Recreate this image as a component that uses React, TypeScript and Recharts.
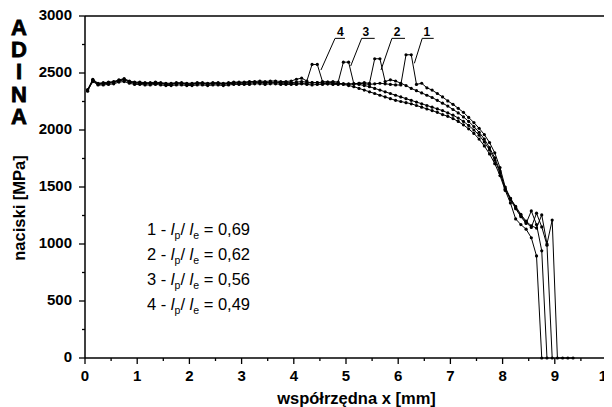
import React from 'react';
import { LineChart, Line, XAxis, YAxis, ReferenceLine, ReferenceDot } from 'recharts';

// positions along the contact, mm
const xs = [
  0.05, 0.15, 0.25, 0.35, 0.45, 0.55, 0.65, 0.75, 0.85, 0.95,
  1.05, 1.15, 1.25, 1.35, 1.45, 1.55, 1.65, 1.75, 1.85, 1.95,
  2.05, 2.15, 2.25, 2.35, 2.45, 2.55, 2.65, 2.75, 2.85, 2.95,
  3.05, 3.15, 3.25, 3.35, 3.45, 3.55, 3.65, 3.75, 3.85, 3.95,
  4.05, 4.15, 4.25, 4.35, 4.45, 4.55, 4.65, 4.75, 4.85, 4.95,
  5.05, 5.15, 5.25, 5.35, 5.45, 5.55, 5.65, 5.75, 5.85, 5.95,
  6.05, 6.15, 6.25, 6.35, 6.45, 6.55, 6.65, 6.75, 6.85, 6.95,
  7.05, 7.15, 7.25, 7.35, 7.45, 7.55, 7.65, 7.75, 7.85, 7.95,
  8.05, 8.15, 8.25, 8.35, 8.45, 8.55, 8.65, 8.75, 8.85, 8.95,
  9.05, 9.15, 9.25, 9.35,
];

// 1 - lp/le = 0,69
const s1 = [
  2345, 2425, 2395, 2395, 2400, 2405, 2420, 2425, 2410, 2400,
  2400, 2395, 2395, 2400, 2395, 2390, 2390, 2395, 2395, 2390,
  2390, 2395, 2395, 2390, 2395, 2395, 2390, 2395, 2400, 2400,
  2400, 2400, 2405, 2405, 2400, 2405, 2405, 2400, 2400, 2400,
  2400, 2405, 2400, 2395, 2400, 2400, 2405, 2400, 2400, 2405,
  2400, 2405, 2410, 2405, 2400, 2405, 2410, 2405, 2400, 2395,
  2395, 2660, 2660, 2400, 2410, 2370, 2350, 2320, 2290, 2255,
  2225, 2190, 2155, 2110, 2065, 2015, 1960, 1890, 1800, 1670,
  1500, 1400, 1330, 1260, 1200, 1160, 1140, 1255, 1000, 1210,
  0, 0, 0, 0,
];

// 2 - lp/le = 0,62
const s2 = [
  2340, 2435, 2400, 2405, 2410, 2415, 2430, 2440, 2420, 2410,
  2410, 2405, 2405, 2410, 2405, 2400, 2400, 2405, 2405, 2400,
  2400, 2405, 2405, 2400, 2405, 2405, 2400, 2405, 2410, 2410,
  2410, 2410, 2415, 2415, 2410, 2415, 2415, 2410, 2410, 2410,
  2410, 2410, 2410, 2415, 2415, 2410, 2405, 2405, 2410, 2405,
  2405, 2405, 2410, 2415, 2410, 2625, 2625, 2425, 2440, 2430,
  2410, 2390, 2365, 2345, 2325, 2305, 2285, 2260, 2235, 2210,
  2180, 2150, 2115, 2075, 2030, 1980, 1920, 1845, 1755, 1640,
  1485, 1400, 1320, 1250, 1190, 1145, 1270, 1150, 990, 0,
];

// 3 - lp/le = 0,56
const s3 = [
  2350, 2440, 2405, 2410, 2415, 2420, 2435, 2445, 2425, 2415,
  2415, 2410, 2410, 2415, 2410, 2405, 2405, 2410, 2410, 2405,
  2405, 2410, 2410, 2405, 2410, 2410, 2405, 2410, 2415, 2415,
  2415, 2420, 2420, 2420, 2415, 2420, 2420, 2415, 2415, 2415,
  2420, 2425, 2420, 2415, 2415, 2420, 2420, 2425, 2420, 2595,
  2595, 2405, 2400, 2390, 2380, 2365, 2350, 2335, 2320, 2305,
  2290, 2275, 2260, 2245, 2230, 2215, 2200, 2185, 2170, 2150,
  2130, 2105, 2075, 2040, 2000, 1955, 1895, 1825, 1735, 1625,
  1480, 1390, 1310, 1240, 1180, 1290, 1170, 940, 0,
];

// 4 - lp/le = 0,49
const s4 = [
  2355, 2445, 2410, 2415, 2420, 2425, 2440, 2450, 2430, 2420,
  2420, 2415, 2415, 2420, 2415, 2410, 2410, 2415, 2415, 2410,
  2410, 2415, 2415, 2410, 2415, 2415, 2410, 2415, 2420, 2420,
  2420, 2425, 2425, 2430, 2425, 2430, 2430, 2425, 2425, 2430,
  2445, 2455, 2430, 2575, 2575, 2425, 2420, 2415, 2410, 2400,
  2390, 2380, 2365, 2350, 2335, 2320, 2305, 2290, 2275, 2260,
  2250, 2240, 2230, 2215, 2200, 2185, 2170, 2155, 2135, 2120,
  2100, 2075, 2045, 2010, 1970, 1920, 1860, 1790, 1705, 1600,
  1470, 1360, 1220, 1170, 1130, 1055, 895, 0,
];

const xTicks = [0, 0.5, 1, 1.5, 2, 2.5, 3, 3.5, 4, 4.5, 5, 5.5, 6, 6.5, 7, 7.5, 8, 8.5, 9, 9.5, 10];
const yTicks = [0, 250, 500, 750, 1000, 1250, 1500, 1750, 2000, 2250, 2500, 2750, 3000];

const legendNames = ['1', '2', '3', '4'];
const legendRatios = ['0,69', '0,62', '0,56', '0,49'];

// peak callouts: label, label x, underline start/end x, leader end (x, y)
const calloutNames = ['4', '3', '2', '1'];
const calloutX = [4.89, 5.38, 5.98, 6.55];
const underlineFrom = [4.79, 5.30, 5.88, 6.46];
const underlineTo = [4.98, 5.55, 6.13, 6.68];
const leaderEndX = [4.52, 5.09, 5.67, 6.31];
const leaderEndY = [2526, 2561, 2526, 2585];
const calloutLabelY = 2862;
const underlineY = 2804;

const toPoints = (vals: number[]) => vals.map((y, i) => ({ x: xs[i], y }));
const series = [s1, s2, s3, s4].map(toPoints);

const FONT = '"Liberation Sans", Arial, Helvetica, sans-serif';

const XTick = (props: any) => {
  const { x, y, payload } = props;
  const major = payload.value % 1 === 0;
  return (
    <g>
      <line x1={x} x2={x} y1={y} y2={y + (major ? 6 : 3)} stroke="#000" strokeWidth={1.3} />
      {major && (
        <text x={x} y={y + 23} textAnchor="middle" fontSize={15} fontWeight="bold" fontFamily={FONT} fill="#000">
          {payload.value}
        </text>
      )}
    </g>
  );
};

const YTick = (props: any) => {
  const { x, y, payload } = props;
  const major = payload.value % 500 === 0;
  return (
    <g>
      <line x1={x - (major ? 6 : 3)} x2={x} y1={y} y2={y} stroke="#000" strokeWidth={1.3} />
      {major && (
        <text x={x - 13} y={y + 4} textAnchor="end" fontSize={15} fontWeight="bold" fontFamily={FONT} fill="#000">
          {payload.value}
        </text>
      )}
    </g>
  );
};

const App = () => (
  <div style={{ position: 'relative', marginTop: -8, width: 604, height: 407, background: '#fff' }}>
    <LineChart width={604} height={407} data={series[0]} margin={{ top: 16, right: 5, bottom: 0, left: 0 }}>
      <XAxis
        dataKey="x"
        type="number"
        domain={[0, 10]}
        ticks={xTicks}
        interval={0}
        height={49}
        tickSize={0}
        tickMargin={0}
        tickLine={false}
        tick={<XTick />}
        axisLine={{ stroke: '#000', strokeWidth: 1.5 }}
      />
      <YAxis
        type="number"
        domain={[0, 3000]}
        ticks={yTicks}
        interval={0}
        width={77}
        tickSize={0}
        tickMargin={0}
        tickLine={false}
        tick={<YTick />}
        axisLine={{ stroke: '#000', strokeWidth: 1.5 }}
      />
      <ReferenceLine y={3000} stroke="#000" strokeWidth={1.3} />
      <ReferenceLine x={10} stroke="#000" strokeWidth={1.3} />
      {series.map((pts, k) => (
        <Line
          key={k}
          data={pts}
          dataKey="y"
          type="linear"
          stroke="#000"
          strokeWidth={1}
          dot={{ r: 1.6, fill: '#000', stroke: 'none' }}
          isAnimationActive={false}
        />
      ))}
      {calloutNames.map((name, k) => (
        <ReferenceLine
          key={'u' + k}
          segment={[{ x: underlineFrom[k], y: underlineY }, { x: underlineTo[k], y: underlineY }]}
          stroke="#000"
          strokeWidth={1}
        />
      ))}
      {calloutNames.map((name, k) => (
        <ReferenceLine
          key={'l' + k}
          segment={[{ x: underlineFrom[k], y: underlineY }, { x: leaderEndX[k], y: leaderEndY[k] }]}
          stroke="#000"
          strokeWidth={1}
        />
      ))}
      {calloutNames.map((name, k) => (
        <ReferenceDot
          key={'d' + k}
          x={calloutX[k]}
          y={calloutLabelY}
          r={0}
          stroke="none"
          fill="none"
          label={{ value: name, position: 'center', fontSize: 12, fontWeight: 'bold', fill: '#000', fontFamily: FONT }}
        />
      ))}
    </LineChart>
    <div
      style={{
        position: 'absolute',
        left: -0.5,
        top: 14.5,
        width: 22,
        fontFamily: FONT,
        fontSize: 22,
        fontWeight: 'bold',
        lineHeight: '22px',
        writingMode: 'vertical-rl',
        textOrientation: 'upright',
        letterSpacing: '-2.8px',
        WebkitTextStroke: '0.8px #000',
        color: '#000',
      }}
    >
      ADINA
    </div>
    <svg width={604} height={407} style={{ position: 'absolute', left: 0, top: 0, pointerEvents: 'none' }}>
      <g fontFamily={FONT} fill="#000">
        <text transform="translate(11,208) rotate(-90)" y={6} textAnchor="middle" fontSize={16.5} fontWeight="bold">
          naciski [MPa]
        </text>
        <text x={348.5} y={403.5} textAnchor="middle" fontSize={16.5} fontWeight="bold">
          współrzędna x [mm]
        </text>
        {legendNames.map((n, k) => (
          <text key={k} x={139} y={234.7 + k * 25} fontSize={16.5}>
            <tspan>{n} - </tspan>
            <tspan fontStyle="italic">l</tspan>
            <tspan fontSize={10.5} dy={4}>p</tspan>
            <tspan dy={-4}>/ </tspan>
            <tspan fontStyle="italic">l</tspan>
            <tspan fontSize={10.5} dy={4}>e</tspan>
            <tspan dy={-4}> = {legendRatios[k]}</tspan>
          </text>
        ))}
      </g>
    </svg>
  </div>
);

export default App;
